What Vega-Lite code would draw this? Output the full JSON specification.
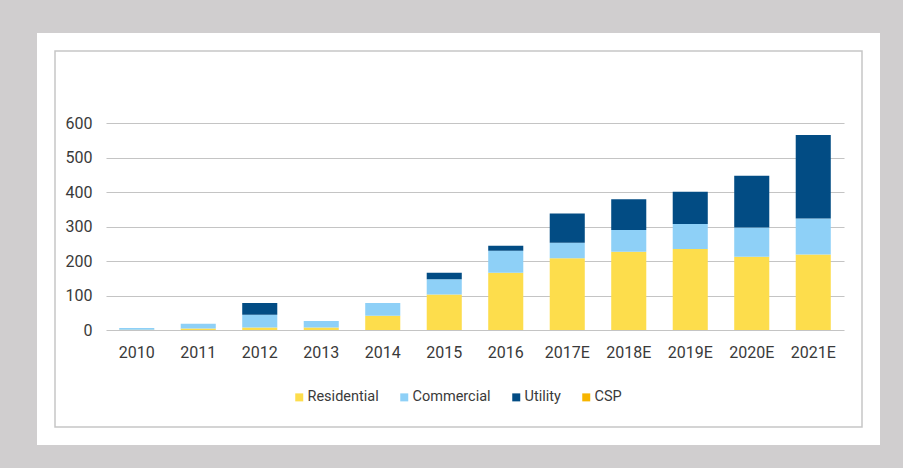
{
  "$schema": "https://vega.github.io/schema/vega-lite/v6.json",
  "width": 807,
  "height": 376,
  "autosize": {"type": "none"},
  "padding": {"left": 55, "top": 51, "right": 41, "bottom": 41},
  "background": "#d0cecf",
  "config": {
    "view": {"fill": "white", "stroke": "white", "strokeWidth": 36},
    "font": "Roboto",
    "axis": {"labelFont": "Roboto", "labelColor": "#3a3a3a", "labelFontSize": 16},
    "legend": {"labelFont": "Roboto", "labelColor": "#3a3a3a", "labelFontSize": 14.5}
  },
  "datasets": {
    "seriesOrder": [
      {"series": "Residential", "rank": 1},
      {"series": "Commercial", "rank": 2},
      {"series": "Utility", "rank": 3}
    ]
  },
  "data": {
    "values": [
      {"year": "2010", "series": "Residential", "value": 1},
      {"year": "2010", "series": "Commercial", "value": 5},
      {"year": "2011", "series": "Residential", "value": 4},
      {"year": "2011", "series": "Commercial", "value": 14},
      {"year": "2012", "series": "Residential", "value": 7},
      {"year": "2012", "series": "Commercial", "value": 37},
      {"year": "2012", "series": "Utility", "value": 34},
      {"year": "2013", "series": "Residential", "value": 7},
      {"year": "2013", "series": "Commercial", "value": 19},
      {"year": "2014", "series": "Residential", "value": 41},
      {"year": "2014", "series": "Commercial", "value": 37},
      {"year": "2015", "series": "Residential", "value": 103},
      {"year": "2015", "series": "Commercial", "value": 44},
      {"year": "2015", "series": "Utility", "value": 19},
      {"year": "2016", "series": "Residential", "value": 166},
      {"year": "2016", "series": "Commercial", "value": 64},
      {"year": "2016", "series": "Utility", "value": 14},
      {"year": "2017E", "series": "Residential", "value": 208},
      {"year": "2017E", "series": "Commercial", "value": 45},
      {"year": "2017E", "series": "Utility", "value": 85},
      {"year": "2018E", "series": "Residential", "value": 227},
      {"year": "2018E", "series": "Commercial", "value": 63},
      {"year": "2018E", "series": "Utility", "value": 89},
      {"year": "2019E", "series": "Residential", "value": 235},
      {"year": "2019E", "series": "Commercial", "value": 72},
      {"year": "2019E", "series": "Utility", "value": 94},
      {"year": "2020E", "series": "Residential", "value": 212},
      {"year": "2020E", "series": "Commercial", "value": 85},
      {"year": "2020E", "series": "Utility", "value": 150},
      {"year": "2021E", "series": "Residential", "value": 219},
      {"year": "2021E", "series": "Commercial", "value": 104},
      {"year": "2021E", "series": "Utility", "value": 242}
    ]
  },
  "layer": [
    {
      "data": {"values": [{}]},
      "mark": {"type": "rect", "fill": "transparent", "stroke": "#c6c6c6", "strokeWidth": 1.5},
      "encoding": {}
    },
    {
      "transform": [
        {"lookup": "series", "from": {"data": {"name": "seriesOrder"}, "key": "series", "fields": ["rank"]}}
      ],
      "mark": {"type": "bar"},
      "encoding": {
        "x": {
          "field": "year",
          "type": "nominal",
          "sort": null,
          "scale": {"type": "band", "range": [51, 789], "paddingInner": 0.43, "paddingOuter": 0.215},
          "axis": {
            "title": null,
            "labelAngle": 0,
            "domain": false,
            "ticks": false,
            "tickSize": 0,
            "offset": -97,
            "labelPadding": 14,
            "grid": false
          }
        },
        "y": {
          "field": "value",
          "type": "quantitative",
          "stack": "zero",
          "scale": {"domain": [0, 600], "range": [279, 72], "nice": false},
          "axis": {
            "title": null,
            "values": [0, 100, 200, 300, 400, 500, 600],
            "domain": false,
            "ticks": false,
            "tickSize": 0,
            "offset": -50,
            "labelPadding": 13,
            "grid": true,
            "gridColor": "#c4c4c4",
            "gridWidth": 1.2
          }
        },
        "color": {
          "field": "series",
          "type": "nominal",
          "scale": {
            "domain": ["Residential", "Commercial", "Utility", "CSP"],
            "range": ["#fddd4c", "#8ed0f7", "#024c84", "#f7b500"]
          },
          "legend": {
            "title": null,
            "orient": "none",
            "direction": "horizontal",
            "legendX": 237,
            "legendY": 339,
            "symbolType": "square",
            "symbolSize": 64,
            "labelOffset": 1,
            "columnPadding": 18
          }
        },
        "order": {"field": "rank", "type": "quantitative", "sort": "ascending"}
      }
    }
  ]
}
